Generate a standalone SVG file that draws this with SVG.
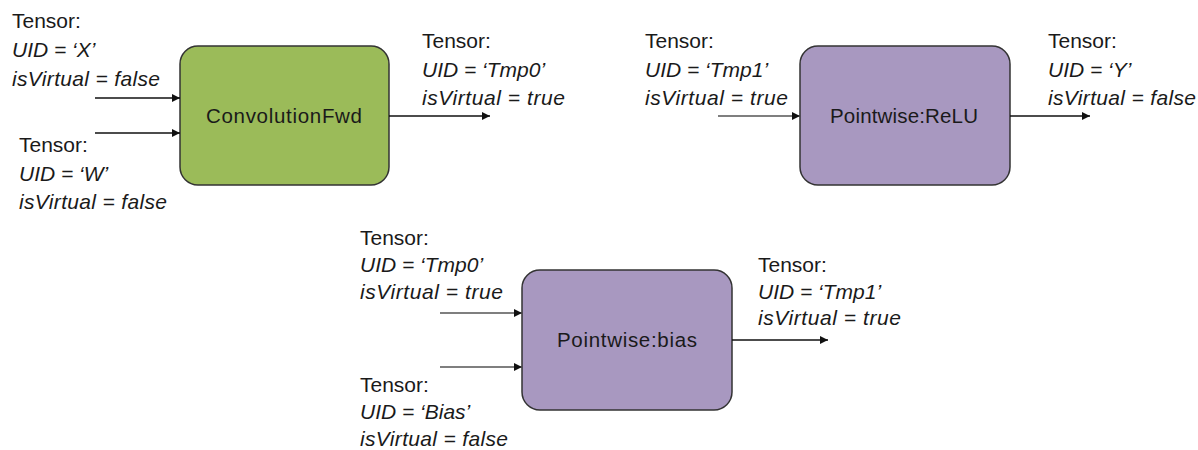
<svg xmlns="http://www.w3.org/2000/svg" width="1198" height="450" viewBox="0 0 1198 450">
<style>
.t{font-family:"Liberation Sans",Arial,sans-serif;font-size:21px;fill:#1a1a1a}
.i{font-style:italic}
.box{stroke:#333;stroke-width:1.5}
.lbl{font-family:"Liberation Sans",Arial,sans-serif;font-size:20.5px;fill:#1a1a1a;text-anchor:middle}
.c{stroke:#111;stroke-width:1.6;fill:none;marker-end:url(#ah)}
.g{stroke:#555}
</style>
<defs>
<marker id="ah" viewBox="0 0 10 10" refX="10" refY="5" markerWidth="5" markerHeight="5" orient="auto" markerUnits="strokeWidth">
<path d="M0,0 L10,5 L0,10 z" fill="#111"/>
</marker>
</defs>
<rect width="1198" height="450" fill="#fff"/>
<g id="conv">
<rect class="box" x="180" y="46" width="209" height="139" rx="18" fill="#9BBB59"/>
<text class="lbl" x="284" y="123" textLength="156" lengthAdjust="spacing">ConvolutionFwd</text>
</g>
<g id="relu">
<rect class="box" x="800" y="46" width="210" height="139" rx="18" fill="#A898C0"/>
<text class="lbl" x="904" y="123" textLength="148" lengthAdjust="spacing">Pointwise:ReLU</text>
</g>
<g id="bias">
<rect class="box" x="522" y="270" width="210" height="140" rx="18" fill="#A898C0"/>
<text class="lbl" x="627" y="347" textLength="140" lengthAdjust="spacing">Pointwise:bias</text>
</g>
<g id="tensor-x">
<text class="t" x="12" y="28">Tensor:</text>
<text class="t i" x="12" y="57">UID = ‘X’</text>
<text class="t i" x="12" y="86" textLength="148" lengthAdjust="spacing">isVirtual = false</text>
</g>
<g id="tensor-w">
<text class="t" x="19" y="152">Tensor:</text>
<text class="t i" x="19" y="181">UID = ‘W’</text>
<text class="t i" x="19" y="209" textLength="148" lengthAdjust="spacing">isVirtual = false</text>
</g>
<g id="tensor-tmp0-out">
<text class="t" x="422" y="48">Tensor:</text>
<text class="t i" x="422" y="77">UID = ‘Tmp0’</text>
<text class="t i" x="422" y="105" textLength="143" lengthAdjust="spacing">isVirtual = true</text>
</g>
<g id="tensor-tmp1-in">
<text class="t" x="645" y="48">Tensor:</text>
<text class="t i" x="645" y="77">UID = ‘Tmp1’</text>
<text class="t i" x="645" y="105" textLength="143" lengthAdjust="spacing">isVirtual = true</text>
</g>
<g id="tensor-y">
<text class="t" x="1048" y="48">Tensor:</text>
<text class="t i" x="1048" y="77">UID = ‘Y’</text>
<text class="t i" x="1048" y="105" textLength="148" lengthAdjust="spacing">isVirtual = false</text>
</g>
<g id="tensor-tmp0-in">
<text class="t" x="360" y="245">Tensor:</text>
<text class="t i" x="360" y="272">UID = ‘Tmp0’</text>
<text class="t i" x="360" y="299" textLength="143" lengthAdjust="spacing">isVirtual = true</text>
</g>
<g id="tensor-bias">
<text class="t" x="360" y="392">Tensor:</text>
<text class="t i" x="360" y="419">UID = ‘Bias’</text>
<text class="t i" x="360" y="446" textLength="148" lengthAdjust="spacing">isVirtual = false</text>
</g>
<g id="tensor-tmp1-out">
<text class="t" x="758" y="272">Tensor:</text>
<text class="t i" x="758" y="299">UID = ‘Tmp1’</text>
<text class="t i" x="758" y="325" textLength="143" lengthAdjust="spacing">isVirtual = true</text>
</g>
<g id="connectors">
<line class="c" x1="95" y1="98" x2="180" y2="98"/>
<line class="c" x1="95" y1="133" x2="180" y2="133"/>
<line class="c" x1="389" y1="116" x2="490" y2="116"/>
<line class="c g" x1="718" y1="116" x2="800" y2="116"/>
<line class="c" x1="1010" y1="116" x2="1090" y2="116"/>
<line class="c g" x1="440" y1="313" x2="522" y2="313"/>
<line class="c g" x1="440" y1="367" x2="522" y2="367"/>
<line class="c" x1="732" y1="340" x2="828" y2="340"/>
</g>
</svg>
